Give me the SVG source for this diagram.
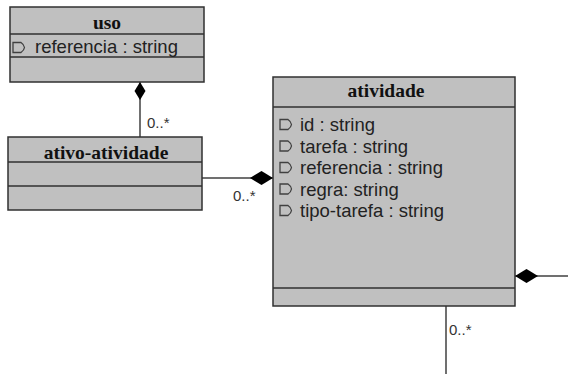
<svg xmlns="http://www.w3.org/2000/svg" width="568" height="374" viewBox="0 0 568 374">
  <defs>
    <style>
      .box { fill: #c0c0c0; stroke: #303030; stroke-width: 1.5; }
      .sep { stroke: #303030; stroke-width: 1.5; }
      .title { font-family: "Liberation Serif", "Times New Roman", serif; font-weight: bold; font-size: 19.5px; fill: #111; text-anchor: middle; }
      .attr { font-family: "Liberation Sans", Arial, sans-serif; font-size: 18.5px; fill: #222; }
      .mult { font-family: "Liberation Sans", Arial, sans-serif; font-size: 15px; fill: #333; }
      .icon { fill: none; stroke: #404040; stroke-width: 1.3; }
      .line { fill: none; stroke: #404040; stroke-width: 1.5; }
      .dia { fill: #000; }
    </style>
    <!-- public attribute marker -->
    <path id="pub" class="icon" d="M0,1 H8 Q11,3 11.5,6 Q11,9 8,11 H0 Z"/>
  </defs>

  <g id="connectors">
    <!-- uso <>- ativo-atividade -->
    <line class="line" x1="140" y1="82" x2="140" y2="137"/>
    <path class="dia" d="M140,82 L145.5,91 L140,100 L134.5,91 Z"/>
    <text class="mult" x="147" y="128">0..*</text>
    <!-- atividade <>- ativo-atividade -->
    <line class="line" x1="202" y1="178" x2="273" y2="178"/>
    <path class="dia" d="M273,178 L261.5,185 L250,178 L261.5,171 Z"/>
    <text class="mult" x="233" y="201">0..*</text>
    <!-- atividade <>- (right) -->
    <line class="line" x1="515" y1="276" x2="568" y2="276"/>
    <path class="dia" d="M515,276 L526.5,269 L538,276 L526.5,283 Z"/>
    <!-- atividade (bottom) -->
    <line class="line" x1="446" y1="306" x2="446" y2="374"/>
    <text class="mult" x="449" y="335">0..*</text>
  </g>

  <g id="uso">
    <rect class="box" x="10" y="7" width="194" height="75"/>
    <line class="sep" x1="10" y1="34" x2="204" y2="34"/>
    <line class="sep" x1="10" y1="57" x2="204" y2="57"/>
    <text class="title" x="107" y="28.5">uso</text>
    <use href="#pub" x="13" y="41.5"/>
    <text class="attr" x="35" y="53">referencia : string</text>
  </g>

  <g id="ativo-atividade">
    <rect class="box" x="8" y="137" width="194" height="73"/>
    <line class="sep" x1="8" y1="162" x2="202" y2="162"/>
    <line class="sep" x1="8" y1="186" x2="202" y2="186"/>
    <text class="title" x="106" y="158.5">ativo-atividade</text>
  </g>

  <g id="atividade">
    <rect class="box" x="273" y="77" width="242" height="229"/>
    <line class="sep" x1="273" y1="107" x2="515" y2="107"/>
    <line class="sep" x1="273" y1="288" x2="515" y2="288"/>
    <text class="title" x="386" y="96.5">atividade</text>
    <use href="#pub" x="280" y="118.5"/>
    <text class="attr" x="300" y="131">id : string</text>
    <use href="#pub" x="280" y="140"/>
    <text class="attr" x="300" y="152.5">tarefa : string</text>
    <use href="#pub" x="280" y="161.5"/>
    <text class="attr" x="300" y="174">referencia : string</text>
    <use href="#pub" x="280" y="183"/>
    <text class="attr" x="300" y="195.5">regra: string</text>
    <use href="#pub" x="280" y="204.5"/>
    <text class="attr" x="300" y="217">tipo-tarefa : string</text>
  </g>
</svg>
